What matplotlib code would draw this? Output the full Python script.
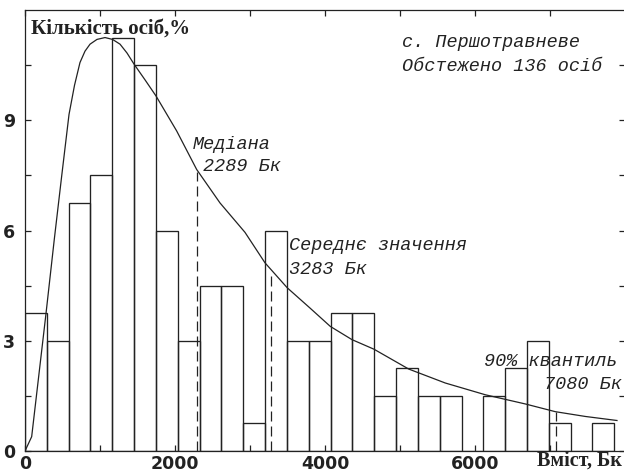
import numpy as np
import matplotlib
matplotlib.use("Agg")
import matplotlib.pyplot as plt

# histogram: share of persons (%) per content bin (Bq), bin width ~291 Bq
bin_width = 291
heights = [3.75, 3.0, 6.75, 7.5, 11.25, 10.5, 6.0, 3.0, 4.5, 4.5, 0.75, 6.0, 3.0, 3.0,
           3.75, 3.75, 1.5, 2.25, 1.5, 1.5, 0.0, 1.5, 2.25, 3.0, 0.75, 0.0, 0.75]

# fitted distribution curve
curve_x = [0, 89, 280, 390, 489, 587, 660, 733, 800, 867, 960, 1067, 1167, 1267, 1360,
           1453, 1600, 1747, 2022, 2289, 2600, 2933, 3200, 3497, 3800, 4071, 4360,
           4653, 5116, 5604, 6138, 6671, 7071, 7471, 7893]
curve_y = [0, 0.39, 3.74, 5.75, 7.48, 9.16, 9.95, 10.57, 10.88, 11.07, 11.2, 11.25, 11.2,
           11.07, 10.83, 10.53, 10.1, 9.66, 8.71, 7.66, 6.75, 5.95, 5.12, 4.44, 3.89,
           3.39, 3.03, 2.77, 2.23, 1.85, 1.53, 1.28, 1.07, 0.94, 0.83]

median, mean, q90 = 2289, 3283, 7080
median_top, mean_top, q90_top = 7.6, 4.85, 1.07

ink = "#222222"
mono = "Liberation Mono"

fig = plt.figure(figsize=(6.24, 4.73), dpi=100)
ax = fig.add_axes([25 / 624, 22 / 473, 600 / 624, 441 / 473])

edges = np.arange(len(heights)) * bin_width
ax.bar(edges, heights, width=bin_width, align="edge", fill=False,
       edgecolor=ink, linewidth=0.95)
ax.plot(curve_x, curve_y, color=ink, linewidth=0.9)

for xv, top in [(median, median_top), (mean, mean_top), (q90, q90_top)]:
    ax.plot([xv, xv], [0, top], color=ink, linewidth=0.9, linestyle=(0, (8, 4)))

ax.set_xlim(0, 8000)
ax.set_ylim(0, 12)
ax.set_xticks([0, 2000, 4000, 6000])
ax.set_xticks([1000, 3000, 5000, 7000], minor=True)
ax.set_yticks([0, 3, 6, 9])
ax.set_yticks([1.5, 4.5, 7.5, 10.5], minor=True)
ax.tick_params(which="both", direction="in", top=True, right=True, length=4,
               width=0.9, color=ink)
ax.tick_params(axis="x", pad=3)
ax.tick_params(axis="y", pad=7)
for lab in ax.get_xticklabels() + ax.get_yticklabels():
    lab.set_fontfamily("DejaVu Sans")
    lab.set_fontweight("bold")
    lab.set_fontsize(12.5)
    lab.set_color(ink)
for s in ax.spines.values():
    s.set_linewidth(0.9)
    s.set_color(ink)

ax.text(76, 11.5, "Кількість осіб,%", family="Liberation Serif", fontweight="bold",
        fontsize=15, color=ink, va="center", ha="left")
fig.text(537 / 624, 1 - 461 / 473, "Вміст, Бк", family="Liberation Serif",
         fontweight="bold", fontsize=14.5, color=ink, va="center", ha="left")

notes = [
    (2240, 8.35, "Медіана"),
    (2373, 7.75, "2289 Бк"),
    (5027, 11.12, "с. Першотравневе"),
    (5027, 10.47, "Обстежено 136 осіб"),
    (3520, 5.59, "Середнє значення"),
    (3520, 4.94, "3283 Бк"),
    (6120, 2.43, "90% квантиль"),
    (6920, 1.80, "7080 Бк"),
]
for xv, yv, s in notes:
    ax.text(xv, yv, s, family=mono, style="italic", fontsize=13.3, color=ink,
            va="center", ha="left")

fig.savefig("out.png", dpi=100, facecolor="white")
